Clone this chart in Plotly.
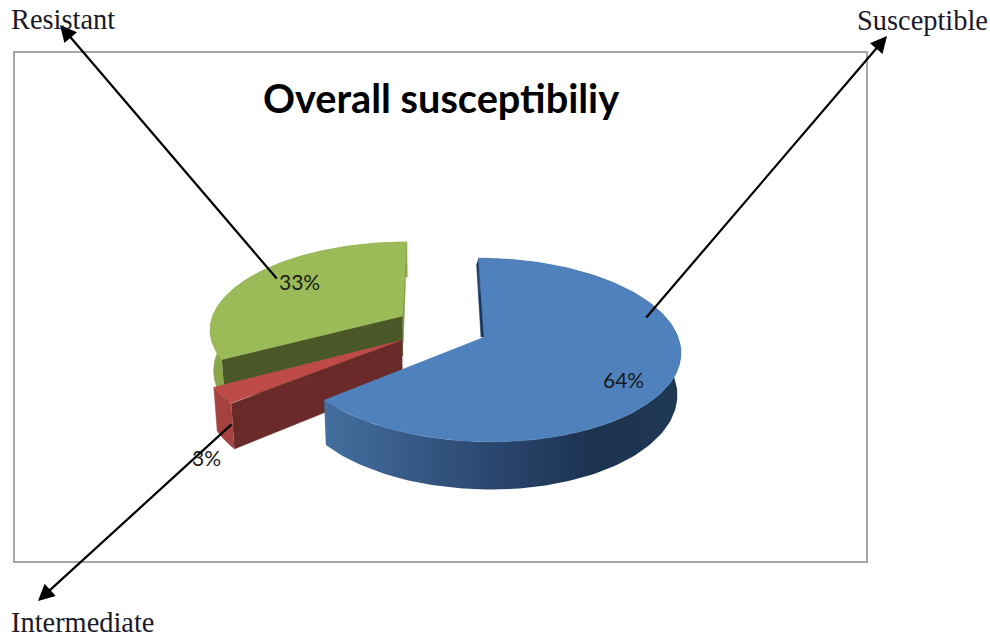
import numpy as np
import plotly.graph_objects as go

# ---- data ----
categories = ["Susceptible", "Intermediate", "Resistant"]
percent = [64, 3, 33]

# ---- styling / geometry ----
top_colors = ["#4F81BD", "#BE4B48", "#9BBB59"]
front_wall_colors = ["#1F3A5C", "#6B2A2A", "#4A5726"]
outer_wall_colors = ["#2E4C76", "#A5423F", "#88A64C"]
explode_x = [44, -38, -39]
explode_v = [0.0, -0.033, 0.24]
radius_x = [194, 196, 196]
draw_order = [2, 1, 0]

VP_X, Y0, RY, PERSP, DEPTH, CONV = 440, 337, 90, 0.141, 41, 0.015


def project(i, theta, r=1.0, z=0.0):
    X = explode_x[i] + radius_x[i] * r * np.sin(theta)
    V = explode_v[i] + r * np.cos(theta)
    s = 1 / (1 + PERSP * V)
    x = VP_X + X * s * (1 - CONV * z)
    y = Y0 - RY * V * s + DEPTH * s * z
    return x, y


total = sum(percent)
edges = np.cumsum([0] + percent) / total * 2 * np.pi


def poly(x, y, color=None, gradient=None):
    kw = dict(x=x, y=y, mode="lines", fill="toself", line=dict(width=0.5, color=color or "rgba(0,0,0,0)"),
              hoverinfo="skip", showlegend=False)
    if gradient:
        kw["fillgradient"] = gradient
        kw["line"] = dict(width=0)
    else:
        kw["fillcolor"] = color
    return go.Scatter(**kw)


fig = go.Figure()
for i in draw_order:
    a, b = edges[i], edges[i + 1]
    th = np.linspace(a, b, 160)

    # thin inner sliver along the radial edge at the slice start/end
    if i == 0:
        ox, oy = project(i, a)
        tx, ty = project(i, a, 0.0)
        fig.add_trace(poly([ox, tx + 1, tx - 3, ox - 2], [oy, ty, ty, oy + 6], "#17365D"))
    if i == 2:
        ox, oy = project(i, b)
        tx, ty = project(i, b, 0.0)
        fig.add_trace(poly([ox, tx, tx + 1, ox], [oy, ty, ty + 26, oy + 2], "#7F9C43"))

    # outer curved wall
    xt, yt = project(i, th)
    xb, yb = project(i, th, 1.0, 1.0)
    grad = None
    if i == 0:
        grad = dict(type="horizontal",
                    colorscale=[[0, "#446F9F"], [0.4, "#2E4C76"], [0.75, "#1C3350"], [1, "#1F3853"]])
    fig.add_trace(poly(np.r_[xt, xb[::-1]], np.r_[yt, yb[::-1]], outer_wall_colors[i], grad))

    # front-facing radial wall
    if i != 0:
        ox, oy = project(i, a)
        tx, ty = project(i, a, 0.0)
        oxb, oyb = project(i, a, 1.0, 1.0)
        txb, tyb = project(i, a, 0.0, 1.0)
        fig.add_trace(poly([ox, tx, txb, oxb], [oy, ty, tyb, oyb], front_wall_colors[i]))

    # top surface
    tx, ty = project(i, a, 0.0)
    fig.add_trace(poly(np.r_[tx, xt], np.r_[ty, yt], top_colors[i]))

# percentage labels
label_pos = {"Susceptible": (623, 379), "Intermediate": (206, 457), "Resistant": (299, 281)}
for c, p in zip(categories, percent):
    x, y = label_pos[c]
    fig.add_annotation(x=x, y=y, text=f"{p}%", showarrow=False,
                       font=dict(family="Lato", size=21, color="#1a1a1a"))

# callout arrows and names
arrows = {"Resistant": ((278, 280), (60, 25)),
          "Susceptible": ((645, 319), (887, 36)),
          "Intermediate": ((233, 423), (38, 601))}
for (ax, ay), (x, y) in arrows.values():
    fig.add_annotation(x=x, y=y, ax=ax, ay=ay, xref="x", yref="y", axref="x", ayref="y", text="",
                       showarrow=True, arrowhead=2, arrowsize=1.5, arrowwidth=2.2, arrowcolor="#000")
name_pos = {"Resistant": (9, 19), "Susceptible": (855, 20), "Intermediate": (9, 622)}
for c, (x, y) in name_pos.items():
    fig.add_annotation(x=x, y=y, text=c, showarrow=False, xanchor="left",
                       font=dict(family="Liberation Serif", size=28.4, color="#1a1a2a"))

fig.add_annotation(x=441, y=97, text="<b>Overall susceptibiliy</b>", showarrow=False,
                   font=dict(family="Lato", size=39.7, color="#000"))

fig.add_shape(type="rect", x0=14, y0=52, x1=867, y1=562, line=dict(color="#A6A6A6", width=2), layer="below")

fig.update_layout(width=990, height=638, margin=dict(l=0, r=0, t=0, b=0),
                  paper_bgcolor="white", plot_bgcolor="white", showlegend=False,
                  xaxis=dict(range=[0, 990], visible=False, fixedrange=True),
                  yaxis=dict(range=[638, 0], visible=False, fixedrange=True))
fig.write_html("out.html", config={"displayModeBar": False},
               post_script="document.body.style.margin='0';")
